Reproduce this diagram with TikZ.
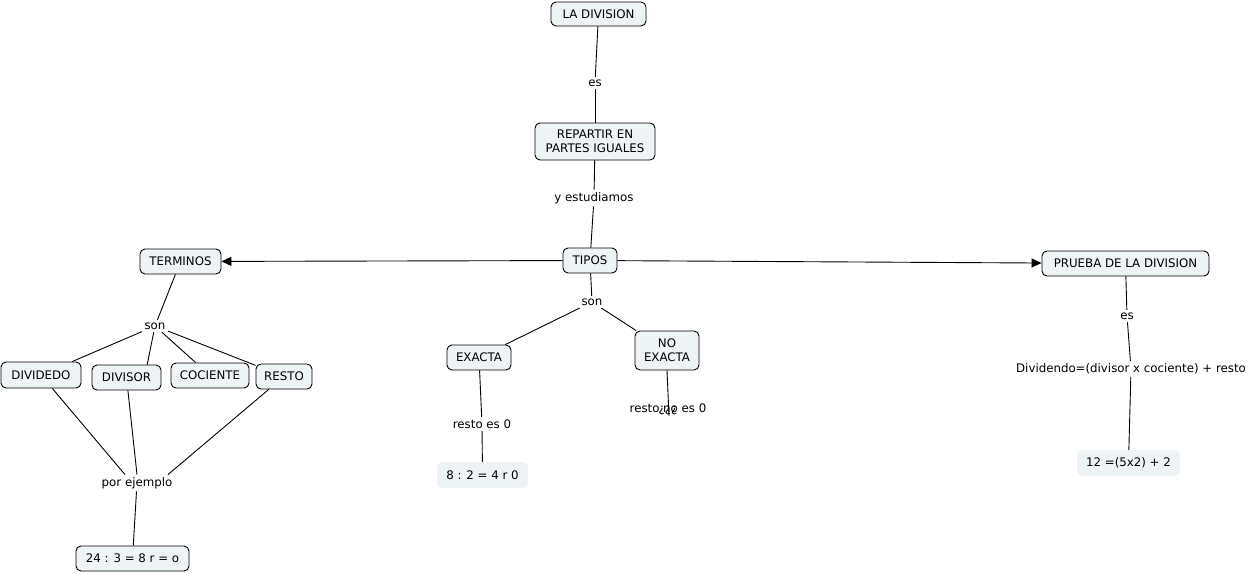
\documentclass[tikz,border=0pt]{standalone}
\usepackage{fontspec}
\setmainfont{DejaVu Sans}
\usetikzlibrary{arrows.meta,calc}
\definecolor{boxfill}{RGB}{238,243,245}
\begin{document}
\begin{tikzpicture}[x=1pt,y=-1pt,
 every node/.style={font=\fontsize{11.8}{14}\selectfont},
 box/.style={draw=black, line width=0.9pt, rounded corners=5pt, fill=boxfill, inner sep=0pt, align=center},
 plainbox/.style={fill=boxfill, rounded corners=5pt, inner sep=0pt, align=center},
 lbl/.style={inner sep=2.5pt},
 ln/.style={draw=black, line width=0.9pt},
 arr/.style={ln, -{Triangle[length=10pt,width=9pt]}}]
\useasboundingbox[fill=white] (0,0) rectangle (1258,573);
% concepts
\node[box, minimum width=95, minimum height=24] (ladiv) at (598.5,14) {LA DIVISION};
\node[box, minimum width=120, minimum height=37] (repartir) at (595,141.5) {REPARTIR EN\\PARTES IGUALES};
\node[box, minimum width=54, minimum height=25] (tipos) at (590,260.5) {TIPOS};
\node[box, minimum width=81, minimum height=25] (terminos) at (180.5,261.5) {TERMINOS};
\node[box, minimum width=167, minimum height=25] (prueba) at (1125.5,263.5) {PRUEBA DE LA DIVISION};
\node[box, minimum width=80, minimum height=26] (dividedo) at (41,375) {DIVIDEDO};
\node[box, minimum width=69, minimum height=25] (divisor) at (126.5,377.5) {DIVISOR};
\node[box, minimum width=78, minimum height=25] (cociente) at (210,375.5) {COCIENTE};
\node[box, minimum width=56, minimum height=25] (resto) at (284,376.5) {RESTO};
\node[box, minimum width=64, minimum height=25] (exacta) at (479,357.5) {EXACTA};
\node[box, minimum width=64, minimum height=39] (noexacta) at (667,350.5) {NO\\EXACTA};
\node[plainbox, minimum width=91, minimum height=26] (ej8) at (482.5,475) {8 : 2 = 4 r 0};
\node[plainbox, minimum width=103, minimum height=26] (ej12) at (1128.5,463) {12 =(5x2) + 2};
\node[box, minimum width=113, minimum height=25] (ej24) at (132.5,558.5) {24 : 3 = 8 r = o};
% linking phrases
\node[lbl] (es1) at (595,83) {es};
\node[lbl] (yest) at (594,198) {y estudiamos};
\node[lbl] (son1) at (592,302) {son};
\node[lbl] (son2) at (155,326) {son};
\node[lbl] (porej) at (137,483) {por ejemplo};
\node[lbl] (restoes) at (482,424) {resto es 0};
\node[lbl] (restono) at (668,408) {resto no es 0};
\node[lbl] (qq) at (668,410) {¿¿¿};
\node[lbl] (es2) at (1127,316) {es};
\node[lbl] (formula) at (1131,369) {Dividendo=(divisor x cociente) + resto};
% connectors
\draw[ln] (ladiv) -- (es1);
\draw[ln] (es1) -- (repartir);
\draw[ln] (repartir) -- (yest);
\draw[ln] (yest) -- (tipos);
\draw[arr] (tipos) -- (terminos);
\draw[arr] (tipos) -- (prueba);
\draw[ln] (tipos) -- (son1);
\draw[ln] (son1) -- (exacta);
\draw[ln] (son1) -- (noexacta);
\draw[ln] (exacta) -- (restoes);
\draw[ln] (restoes) -- (ej8);
\draw[ln] (noexacta.south) -- ($(restono.center)+(1,8)$);
\draw[ln] (terminos) -- (son2);
\draw[ln] (son2) -- (dividedo);
\draw[ln] (son2) -- (divisor.32);
\draw[ln] (son2) -- (cociente);
\draw[ln] (son2) -- (resto);
\draw[ln] (dividedo) -- ($(porej.north)+(-12,0)$);
\draw[ln] (divisor) -- ($(porej.north)+(0,0)$);
\draw[ln] (resto) -- ($(porej.north)+(31,0)$);
\draw[ln] (porej) -- (ej24);
\draw[ln] (prueba) -- (es2);
\draw[ln] (es2) -- (formula);
\draw[ln] (formula) -- (ej12);
\end{tikzpicture}
\end{document}
